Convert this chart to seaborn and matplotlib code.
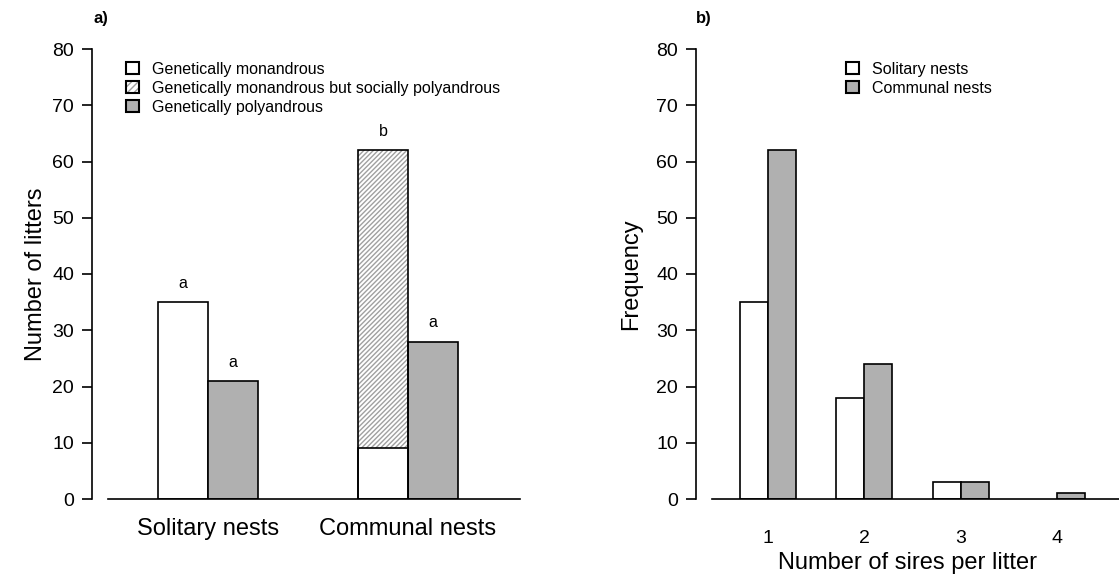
import matplotlib
matplotlib.use("Agg")
import matplotlib.pyplot as plt
import seaborn as sns
import pandas as pd
from matplotlib.patches import Patch

# Panel a: litters per nest type
nest_types = ["Solitary nests", "Communal nests"]
gen_mono = [35, 9]          # genetically monandrous
social_poly = [0, 53]       # genetically monandrous but socially polyandrous
gen_poly = [21, 28]         # genetically polyandrous
letters_mono = ["a", "b"]
letters_poly = ["a", "a"]

# Panel b: number of sires per litter
sires = ["1", "2", "3", "4"]
freq_solitary = [35, 18, 3, 0]
freq_communal = [62, 24, 3, 1]

GREY = "#b0b0b0"
HATCH_GREY = "#a0a0a0"
sns.set_theme(style="ticks")
plt.rcParams["font.family"] = ["Liberation Sans", "DejaVu Sans"]
plt.rcParams["hatch.linewidth"] = 1.0
for k in ("text.color", "axes.labelcolor", "xtick.color", "ytick.color"):
    plt.rcParams[k] = "black"

W, H = 1119, 578
fig = plt.figure(figsize=(W / 100, H / 100), dpi=100)
ax1 = fig.add_axes([92 / W, 79 / H, (520 - 92) / W, 450 / H])
ax2 = fig.add_axes([696 / W, 79 / H, (1119 - 696) / W, 450 / H])


def style_axes(ax, xlim, bottom_from):
    ax.set_ylim(0, 80)
    ax.set_xlim(*xlim)
    ax.set_yticks(range(0, 81, 10))
    ax.tick_params(axis="y", labelsize=14, length=7, width=1.2, pad=6)
    ax.spines["top"].set_visible(False)
    ax.spines["right"].set_visible(False)
    ax.spines["left"].set_bounds(0, 80)
    ax.spines["bottom"].set_bounds(bottom_from, xlim[1])
    for s in ("left", "bottom"):
        ax.spines[s].set_linewidth(1.2)
        ax.spines[s].set_color("black")


# ---- panel a ----
df_a = pd.DataFrame({
    "nest": nest_types * 2,
    "group": ["mono"] * 2 + ["poly"] * 2,
    "n": [m + s for m, s in zip(gen_mono, social_poly)] + gen_poly,
})
sns.barplot(data=df_a, x="nest", y="n", hue="group", order=nest_types,
            hue_order=["mono", "poly"], palette=["white", GREY], saturation=1,
            width=0.5, edgecolor="black", linewidth=1.2, legend=False, ax=ax1)

mono_bars = list(ax1.containers[0])
poly_bars = list(ax1.containers[1])
for i, bar in enumerate(mono_bars):
    x, w = bar.get_x(), bar.get_width()
    if social_poly[i] > 0:
        total = gen_mono[i] + social_poly[i]
        bar.set_hatch("///////")
        bar.set_edgecolor(HATCH_GREY)
        bar.set_linewidth(0)
        ax1.bar(x, gen_mono[i], width=w, align="edge", color="white",
                edgecolor="black", linewidth=1.2, zorder=3)
        ax1.bar(x, total, width=w, align="edge", fill=False,
                edgecolor="black", linewidth=1.2, zorder=4)
    ax1.text(x + w / 2, bar.get_height() + 2.0, letters_mono[i],
             ha="center", va="bottom", fontsize=11.5)
for i, bar in enumerate(poly_bars):
    ax1.text(bar.get_x() + bar.get_width() / 2, bar.get_height() + 2.0,
             letters_poly[i], ha="center", va="bottom", fontsize=11.5)

style_axes(ax1, (-0.58, 1.56), -0.5)
ax1.set_xlabel("")
ax1.set_ylabel("Number of litters", fontsize=17, labelpad=4)
ax1.tick_params(axis="x", labelsize=17, length=0, pad=14)

h_mono = Patch(facecolor="white", edgecolor="black", linewidth=1.5)
h_soc = (Patch(facecolor="white", edgecolor=HATCH_GREY, hatch="/////", linewidth=0),
         Patch(fill=False, edgecolor="black", linewidth=1.5))
h_poly = Patch(facecolor=GREY, edgecolor="black", linewidth=1.5)
ax1.legend([h_mono, h_soc, h_poly],
           ["Genetically monandrous",
            "Genetically monandrous but socially polyandrous",
            "Genetically polyandrous"],
           loc="upper left", bbox_to_anchor=(0.05, 1.0), frameon=False,
           fontsize=11.5, handlelength=0.8, handleheight=0.8,
           handletextpad=0.8, labelspacing=0.25, borderaxespad=0.4)

# ---- panel b ----
df_b = pd.DataFrame({
    "sires": sires * 2,
    "nest": ["Solitary nests"] * 4 + ["Communal nests"] * 4,
    "freq": freq_solitary + freq_communal,
})
sns.barplot(data=df_b, x="sires", y="freq", hue="nest", order=sires,
            hue_order=["Solitary nests", "Communal nests"],
            palette=["white", GREY], saturation=1, width=0.58,
            edgecolor="black", linewidth=1.2, ax=ax2)
for bar in ax2.containers[0]:
    if bar.get_height() == 0:
        bar.set_visible(False)

style_axes(ax2, (-0.748, 3.645), -0.58)
ax2.set_xlabel("Number of sires per litter", fontsize=17, labelpad=4)
ax2.set_ylabel("Frequency", fontsize=17, labelpad=10)
ax2.tick_params(axis="x", labelsize=14, length=0, pad=22)

ax2.legend(handles=[Patch(facecolor="white", edgecolor="black", linewidth=1.5),
                    Patch(facecolor=GREY, edgecolor="black", linewidth=1.5)],
           labels=["Solitary nests", "Communal nests"],
           loc="upper left", bbox_to_anchor=(0.325, 1.0), frameon=False,
           fontsize=11.5, handlelength=0.8, handleheight=0.8,
           handletextpad=0.8, labelspacing=0.25, borderaxespad=0.4)

fig.text(93 / W, 1 - 18 / H, "a)", fontsize=12, fontweight="bold", va="center")
fig.text(696 / W, 1 - 18 / H, "b)", fontsize=12, fontweight="bold", va="center")

fig.savefig("out.png", dpi=100)
